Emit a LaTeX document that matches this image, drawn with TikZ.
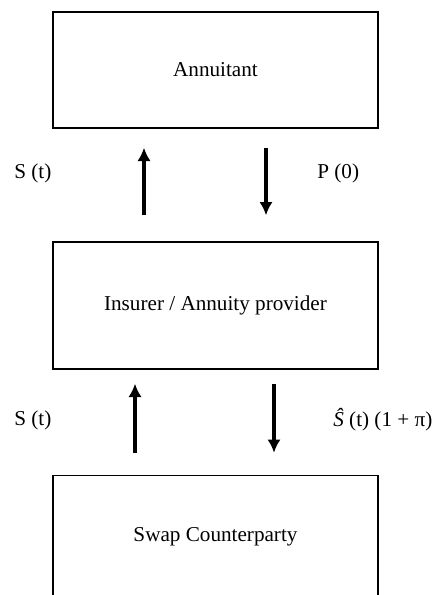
\documentclass[tikz,border=0pt]{standalone}
\usepackage{fontspec}
\setmainfont{Liberation Serif}
\usepackage{tikz}
\usetikzlibrary{arrows.meta,positioning}

\tikzset{
  party/.style={draw,line width=0.8pt,minimum width=195pt,inner sep=0pt,
    font=\fontsize{12.7}{15}\selectfont},
  flow/.style={line width=2.1pt,-{Latex[length=8pt,width=8pt]}},
  amount/.style={anchor=west,inner sep=0pt,font=\fontsize{12.7}{15}\selectfont}
}

\begin{document}
\begin{tikzpicture}[x=0.6pt,y=-0.6pt]
        \useasboundingbox (0,0) rectangle (437,595);
        \clip (0,0) rectangle (437,595);
        \node[party,minimum height=69.6pt] (annuitant) at (215.5,70) {Annuitant};
        \node[party,minimum height=76.2pt] (insurer) at (215.5,305.5) {Insurer / Annuity provider};
        \node[party,minimum height=73.8pt] (swap) at (215.5,537) {Swap Counterparty};
        % between annuitant and insurer
        \draw[flow] ([shift={(-42.9pt,15.6pt)}]insurer.north) -- ([shift={(-42.9pt,-11.4pt)}]annuitant.south);
        \draw[flow] ([shift={(30.3pt,-11.4pt)}]annuitant.south) -- ([shift={(30.3pt,15.6pt)}]insurer.north);
        \node[amount] (st1) at (14,173) {S (t)};
        \node[amount] (p0) at (317,173) {P (0)};
        % between insurer and swap counterparty
        \draw[flow] ([shift={(-48.3pt,13.2pt)}]swap.north) -- ([shift={(-48.3pt,-8.4pt)}]insurer.south);
        \draw[flow] ([shift={(35.1pt,-8.4pt)}]insurer.south) -- ([shift={(35.1pt,13.2pt)}]swap.north);
        \node[amount] (st2) at (14,420) {S (t)};
        \node[amount] (shat) at (333,420) {\textit{Ŝ} (t) (1 + π)};
    \end{tikzpicture}
\end{document}
